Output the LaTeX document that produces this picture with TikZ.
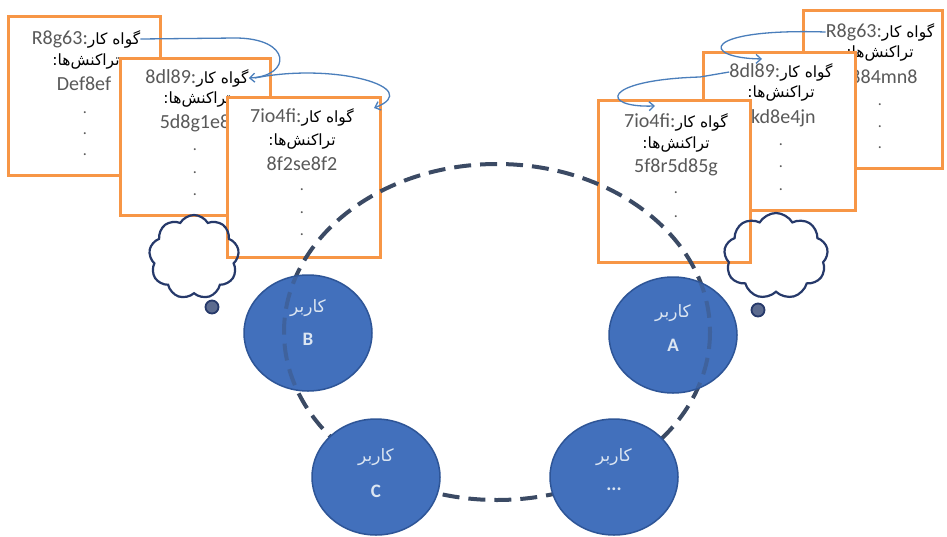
\documentclass[tikz,border=0pt]{standalone}
\usepackage{fontspec}
\setmainfont{Carlito}
\newfontfamily\fa[Script=Arabic]{DejaVu Sans}
\TeXXeTstate=1
\usetikzlibrary{shapes.geometric,shapes.symbols,arrows.meta,calc}
\definecolor{cardorange}{HTML}{F79646}
\definecolor{hashgray}{HTML}{595959}
\definecolor{ringcol}{HTML}{3B4A64}
\definecolor{userfill}{HTML}{4270BC}
\definecolor{userline}{HTML}{2E5597}
\definecolor{usertext}{HTML}{DCE6F2}
\definecolor{linkblue}{HTML}{4A7EBB}
\definecolor{cloudline}{HTML}{26396A}
\newcommand{\ttlfa}{{\fa\fontsize{15.5pt}{18pt}\selectfont\color{black}\beginR گواه کار\endR}}
\newcommand{\trfa}{{\fa\fontsize{15.5pt}{18pt}\selectfont\beginR تراکنش‌ها:\endR}}
\begin{document}
\begin{tikzpicture}[x=1pt,y=-1pt,
  card/.style={draw=cardorange, line width=3pt, fill=white, rectangle, inner sep=0pt},
  ttl/.style={inner sep=0pt, font=\fontsize{20pt}{22pt}\selectfont, text=hashgray},
  trl/.style={inner sep=0pt, text=black},
  hsh/.style={inner sep=0pt, font=\fontsize{20pt}{22pt}\selectfont, text=hashgray},
  dotl/.style={inner sep=0pt, font=\fontsize{16pt}{18pt}\selectfont, text=hashgray},
  link/.style={draw=linkblue, line width=1.3pt, -{Straight Barb[length=5pt,width=9pt]}},
  ring/.style={draw=ringcol, line width=4pt, dash pattern=on 17pt off 9pt},
  user/.style={ellipse, draw=userline, line width=1.5pt, fill=userfill, minimum width=128pt, minimum height=116pt, inner sep=0pt},
  ufa/.style={inner sep=0pt, text=usertext, font=\fa\fontsize{17pt}{19pt}\selectfont},
  ulet/.style={inner sep=0pt, text=usertext, font=\fontsize{19pt}{21pt}\selectfont\bfseries},
  thought/.style={cloud, cloud puffs=9, cloud puff arc=120, cloud ignores aspect, draw=cloudline, line width=2.2pt, inner sep=0pt},
  bubble/.style={circle, draw=cloudline, fill=cloudline!75, line width=1.8pt, minimum size=13pt, inner sep=0pt}
]
\useasboundingbox[fill=white] (0,0) rectangle (947,536);

% ---------- left stack ----------
\node[card, minimum width=152pt, minimum height=159pt] (L1) at (84,95.5) {};
\node[ttl] (L1a) at (86,39) {R8g63:\ttlfa};
\node[trl] (L1b) at (86,62) {\trfa};
\node[hsh] (L1c) at (84,84) {Def8ef};
\node[dotl] (L1d) at (85,113) {.};
\node[dotl] (L1e) at (85,134) {.};
\node[dotl] (L1f) at (85,155) {.};

\node[card, minimum width=150pt, minimum height=157pt] (L2) at (195,136.5) {};
\node[ttl] (L2a) at (197,78) {8dl89:\ttlfa};
\node[trl] (L2b) at (197,100) {\trfa};
\node[hsh] (L2c) at (195,123) {5d8g1e8};
\node[dotl] (L2d) at (195,150) {.};
\node[dotl] (L2e) at (195,173) {.};
\node[dotl] (L2f) at (195,195) {.};

\node[card, minimum width=153pt, minimum height=160pt] (L3) at (303.5,177) {};
\node[ttl] (L3a) at (302,117) {7io4fi:\ttlfa};
\node[trl] (L3b) at (302,141) {\trfa};
\node[hsh] (L3c) at (302,164) {8f2se8f2};
\node[dotl] (L3d) at (302,190) {.};
\node[dotl] (L3e) at (302,213) {.};
\node[dotl] (L3f) at (302,235) {.};

% ---------- right stack ----------
\node[card, minimum width=139pt, minimum height=158pt] (R3) at (872.5,89) {};
\node[ttl] (R3a) at (880,32) {R8g63:\ttlfa};
\node[trl] (R3b) at (880,54) {\trfa};
\node[hsh] (R3c) at (884,77) {884mn8};
\node[dotl] (R3d) at (880,105) {.};
\node[dotl] (R3e) at (880,127) {.};
\node[dotl] (R3f) at (880,148) {.};

\node[card, minimum width=152pt, minimum height=158pt] (R2) at (779,131) {};
\node[ttl] (R2a) at (781,72) {8dl89:\ttlfa};
\node[trl] (R2b) at (781,94) {\trfa};
\node[hsh] (R2c) at (781,118) {jkd8e4jn};
\node[dotl] (R2d) at (781,145) {.};
\node[dotl] (R2e) at (781,167) {.};
\node[dotl] (R2f) at (781,190) {.};

\node[card, minimum width=152pt, minimum height=162pt] (R1) at (674,181) {};
\node[ttl] (R1a) at (676,122) {7io4fi:\ttlfa};
\node[trl] (R1b) at (676,144) {\trfa};
\node[hsh] (R1c) at (676,167) {5f8r5d85g};
\node[dotl] (R1d) at (676,193) {.};
\node[dotl] (R1e) at (676,217) {.};

% ---------- chain links ----------
\draw[link] (L1a.east) -- (235,38) .. controls (292,38) and (292,76) .. (L2a.east);
\draw[link] ([xshift=6pt]L2a.east) .. controls (335,62) and (425,88) .. ([xshift=20pt,yshift=9pt]L3a.east);
\draw[link] (R3a.west) .. controls (700,28) and (700,58) .. ([xshift=-19pt,yshift=4pt]R2a.north);
\draw[link] (R2a.west) -- (700,77) .. controls (600,80) and (600,108) .. ([xshift=-21pt,yshift=7pt]R1a.north);

% ---------- ring ----------
\draw[ring] (497,332) ellipse [x radius=213, y radius=168];

% ---------- thought clouds ----------
\node[thought, minimum width=90pt, minimum height=84pt] (CL) at (194,257) {};
\node[bubble] (CLb) at (212,307) {};
\node[thought, minimum width=104pt, minimum height=86pt] (CR) at (776,256) {};
\node[bubble] (CRb) at (758,310) {};

% ---------- users ----------
\node[user] (B) at (308,333) {};
\node[user] (A) at (673,335) {};
\node[user] (C) at (376,477) {};
\node[user] (D) at (614,477) {};
\begin{scope}
  \clip (308,333) ellipse [x radius=63, y radius=57];
  \draw[ring, draw opacity=0.35] (497,332) ellipse [x radius=213, y radius=168];
\end{scope}
\begin{scope}
  \clip (673,335) ellipse [x radius=63, y radius=57];
  \draw[ring, draw opacity=0.35] (497,332) ellipse [x radius=213, y radius=168];
\end{scope}
\node[ufa] (Bt) at ([yshift=25pt]B.center) {\beginR کاربر\endR};
\node[ulet] (Bl) at ([yshift=-6pt]B.center) {B};
\node[ufa] (At) at ([yshift=22pt]A.center) {\beginR کاربر\endR};
\node[ulet] (Al) at ([yshift=-10pt]A.center) {A};
\node[ufa] (Ct) at ([yshift=20pt]C.center) {\beginR کاربر\endR};
\node[ulet] (Cl) at ([yshift=-14pt]C.center) {C};
\node[ufa] (Dt) at ([yshift=20pt]D.center) {\beginR کاربر\endR};
\node[ulet] (Dl) at ([yshift=-12pt]D.center) {...};
\end{tikzpicture}
\end{document}
